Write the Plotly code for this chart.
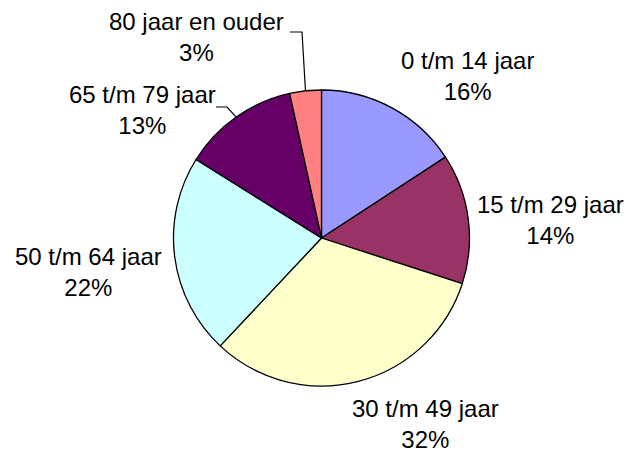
import math
import plotly.graph_objects as go

# ---- data ----
categories = ["0 t/m 14 jaar", "15 t/m 29 jaar", "30 t/m 49 jaar",
              "50 t/m 64 jaar", "65 t/m 79 jaar", "80 jaar en ouder"]
values = [15.8, 14.2, 32.0, 21.9, 12.65, 3.45]
colors = ["#9999FF", "#993366", "#FFFFCC", "#CCFFFF", "#660066", "#FF8080"]

# label block centres (pixels, from top-left) -- layout only
label_pos = [(467, 76), (550, 220), (425, 424), (88, 272), (142, 110), (196, 37)]
leader = [None, None, None, None, (216, 107, 227), (290, 32, 302)]

W, H = 632, 452
cx, cy, R = 321.5, 238.0, 148.0

total = sum(values)
pcts = [round(v / total * 100) for v in values]

fig = go.Figure(go.Pie(
    labels=categories, values=values, sort=False, direction="clockwise",
    rotation=0, marker=dict(colors=colors, line=dict(color="black", width=1.3)),
    textinfo="none", hoverinfo="label+percent", showlegend=False,
    domain=dict(x=[(cx - R) / W, (cx + R) / W],
                y=[(H - cy - R) / H, (H - cy + R) / H]),
))

annotations = []
shapes = []
cum = 0.0
for i, (cat, v) in enumerate(zip(categories, values)):
    mid = (cum + v / 2) / total * 2 * math.pi
    cum += v
    lx, ly = label_pos[i]
    annotations.append(dict(
        x=lx / W, y=1 - ly / H, xref="paper", yref="paper",
        text=f"{cat}<br>{pcts[i]}%", showarrow=False,
        font=dict(family="Arial, Liberation Sans, sans-serif", size=24, color="black"),
        align="center", xanchor="center", yanchor="middle"))
    if leader[i] is not None:
        x0, y0, x1 = leader[i]
        ex = cx + R * math.sin(mid)
        ey = cy - R * math.cos(mid)
        pts = [(x0, y0), (x1, y0), (ex, ey)]
        path = "M " + " L ".join(f"{px / W},{1 - py / H}" for px, py in pts)
        shapes.append(dict(type="path", xref="paper", yref="paper", path=path,
                           line=dict(color="black", width=1.2)))

fig.update_layout(width=W, height=H, margin=dict(l=0, r=0, t=0, b=0),
                  paper_bgcolor="white", plot_bgcolor="white",
                  annotations=annotations, shapes=shapes)
fig.write_html("out.html", config={"displayModeBar": False},
               post_script="document.body.style.margin='0';document.body.style.overflow='hidden';")
